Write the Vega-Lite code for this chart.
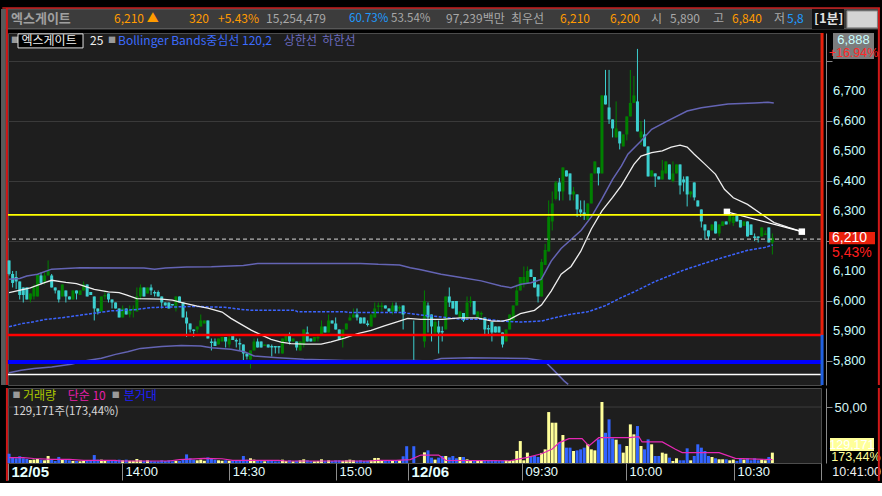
{
  "$schema": "https://vega.github.io/schema/vega-lite/v6.json",
  "background": "#000000",
  "padding": {"left": 0, "top": 6, "right": 0, "bottom": 0},
  "spacing": -2,
  "config": {
    "view": {"stroke": null},
    "scale": {"continuousPadding": 0},
    "text": {"font": "Noto Sans CJK KR", "fontSize": 12, "align": "left", "baseline": "middle"},
    "axis": {"labelFont": "Liberation Sans", "labelOverlap": false, "labelBound": false, "labelSeparation": 0}
  },
  "datasets": {
    "one": [{}],
    "yt": [{"t":5800},{"t":5900},{"t":6000},{"t":6100},{"t":6300},{"t":6400},{"t":6500},{"t":6600},{"t":6700}],
    "bars": [
      {"i":0,"o":6135,"h":6135,"l":6085,"c":6090,"v":8300},
      {"i":1,"o":6090,"h":6100,"l":6045,"c":6060,"v":4800},
      {"i":2,"o":6080,"h":6100,"l":6040,"c":6065,"v":4200},
      {"i":3,"o":6065,"h":6065,"l":6005,"c":6020,"v":6000},
      {"i":4,"o":6045,"h":6045,"l":5995,"c":6020,"v":4200},
      {"i":5,"o":6045,"h":6045,"l":6005,"c":6005,"v":3600},
      {"i":6,"o":6005,"h":6025,"l":5995,"c":6025,"v":2700},
      {"i":7,"o":6015,"h":6055,"l":6005,"c":6045,"v":3000},
      {"i":8,"o":6015,"h":6090,"l":6015,"c":6090,"v":3600},
      {"i":9,"o":6085,"h":6095,"l":6055,"c":6060,"v":3000},
      {"i":10,"o":6065,"h":6095,"l":6055,"c":6085,"v":2400},
      {"i":11,"o":6085,"h":6135,"l":6085,"c":6100,"v":6250},
      {"i":12,"o":6085,"h":6090,"l":6045,"c":6045,"v":3000},
      {"i":13,"o":6045,"h":6045,"l":6025,"c":6035,"v":1800},
      {"i":14,"o":6035,"h":6035,"l":5995,"c":6005,"v":5400},
      {"i":15,"o":6015,"h":6055,"l":6015,"c":6055,"v":3000},
      {"i":16,"o":6035,"h":6035,"l":5995,"c":6015,"v":3000},
      {"i":17,"o":6015,"h":6015,"l":6005,"c":6005,"v":2400},
      {"i":18,"o":6005,"h":6035,"l":6005,"c":6035,"v":1800},
      {"i":19,"o":6035,"h":6035,"l":6005,"c":6025,"v":1800},
      {"i":20,"o":6020,"h":6035,"l":6020,"c":6035,"v":1500},
      {"i":21,"o":6035,"h":6065,"l":6035,"c":6055,"v":1800},
      {"i":22,"o":6055,"h":6055,"l":6015,"c":6015,"v":2400},
      {"i":23,"o":6030,"h":6030,"l":6020,"c":6020,"v":1800},
      {"i":24,"o":6015,"h":6015,"l":5935,"c":5975,"v":7100},
      {"i":25,"o":5975,"h":5975,"l":5955,"c":5965,"v":3000},
      {"i":26,"o":5965,"h":6015,"l":5965,"c":6015,"v":3000},
      {"i":27,"o":6015,"h":6035,"l":6005,"c":6020,"v":2400},
      {"i":28,"o":6025,"h":6025,"l":5995,"c":6005,"v":2400},
      {"i":29,"o":6005,"h":6005,"l":5975,"c":5995,"v":2400},
      {"i":30,"o":5995,"h":5995,"l":5975,"c":5975,"v":2000},
      {"i":31,"o":5975,"h":5975,"l":5945,"c":5945,"v":3000},
      {"i":32,"o":5945,"h":5985,"l":5945,"c":5975,"v":2400},
      {"i":33,"o":5975,"h":5975,"l":5955,"c":5955,"v":3000},
      {"i":34,"o":5955,"h":5985,"l":5945,"c":5970,"v":2000},
      {"i":35,"o":5970,"h":5985,"l":5945,"c":5975,"v":2000},
      {"i":36,"o":5965,"h":6045,"l":5965,"c":6015,"v":3600},
      {"i":37,"o":6015,"h":6055,"l":6005,"c":6045,"v":2400},
      {"i":38,"o":6045,"h":6045,"l":6015,"c":6015,"v":2000},
      {"i":39,"o":6025,"h":6045,"l":6025,"c":6045,"v":2400},
      {"i":40,"o":6045,"h":6055,"l":6020,"c":6035,"v":1800},
      {"i":41,"o":6030,"h":6035,"l":6015,"c":6025,"v":1500},
      {"i":42,"o":6030,"h":6035,"l":6015,"c":6015,"v":1500},
      {"i":43,"o":6015,"h":6015,"l":5975,"c":5995,"v":2400},
      {"i":44,"o":5995,"h":5995,"l":5985,"c":5985,"v":1800},
      {"i":45,"o":5995,"h":5995,"l":5975,"c":5975,"v":2400},
      {"i":46,"o":5990,"h":5990,"l":5985,"c":5985,"v":1500},
      {"i":47,"o":5975,"h":6015,"l":5965,"c":6015,"v":2000},
      {"i":48,"o":6015,"h":6015,"l":5995,"c":5995,"v":1800},
      {"i":49,"o":5995,"h":5995,"l":5945,"c":5945,"v":3000},
      {"i":50,"o":5945,"h":5965,"l":5880,"c":5925,"v":7700},
      {"i":51,"o":5925,"h":5925,"l":5895,"c":5905,"v":4200},
      {"i":52,"o":5905,"h":5905,"l":5880,"c":5900,"v":3000},
      {"i":53,"o":5905,"h":5915,"l":5895,"c":5915,"v":2400},
      {"i":54,"o":5915,"h":5955,"l":5915,"c":5935,"v":3000},
      {"i":55,"o":5925,"h":5935,"l":5925,"c":5935,"v":2000},
      {"i":56,"o":5935,"h":5935,"l":5875,"c":5875,"v":5000},
      {"i":57,"o":5865,"h":5875,"l":5835,"c":5860,"v":4200},
      {"i":58,"o":5865,"h":5875,"l":5850,"c":5850,"v":3000},
      {"i":59,"o":5855,"h":5875,"l":5855,"c":5875,"v":2400},
      {"i":60,"o":5865,"h":5880,"l":5865,"c":5880,"v":2000},
      {"i":61,"o":5880,"h":5880,"l":5845,"c":5865,"v":2400},
      {"i":62,"o":5855,"h":5890,"l":5845,"c":5875,"v":2000},
      {"i":63,"o":5885,"h":5885,"l":5870,"c":5870,"v":2400},
      {"i":64,"o":5870,"h":5875,"l":5845,"c":5865,"v":1800},
      {"i":65,"o":5860,"h":5875,"l":5835,"c":5855,"v":2000},
      {"i":66,"o":5855,"h":5855,"l":5795,"c":5825,"v":6250},
      {"i":67,"o":5825,"h":5825,"l":5805,"c":5815,"v":3000},
      {"i":68,"o":5805,"h":5835,"l":5775,"c":5835,"v":4200},
      {"i":69,"o":5835,"h":5875,"l":5835,"c":5865,"v":3000},
      {"i":70,"o":5865,"h":5875,"l":5845,"c":5845,"v":2400},
      {"i":71,"o":5865,"h":5865,"l":5845,"c":5845,"v":2000},
      {"i":72,"o":5850,"h":5855,"l":5850,"c":5855,"v":1500},
      {"i":73,"o":5855,"h":5855,"l":5845,"c":5845,"v":2000},
      {"i":74,"o":5850,"h":5855,"l":5815,"c":5845,"v":1800},
      {"i":75,"o":5850,"h":5850,"l":5825,"c":5845,"v":1500},
      {"i":76,"o":5850,"h":5850,"l":5825,"c":5845,"v":1500},
      {"i":77,"o":5825,"h":5875,"l":5825,"c":5875,"v":3000},
      {"i":78,"o":5865,"h":5885,"l":5865,"c":5885,"v":1800},
      {"i":79,"o":5885,"h":5895,"l":5855,"c":5865,"v":2400},
      {"i":80,"o":5865,"h":5875,"l":5865,"c":5875,"v":1500},
      {"i":81,"o":5865,"h":5865,"l":5835,"c":5845,"v":2000},
      {"i":82,"o":5835,"h":5865,"l":5835,"c":5865,"v":2400},
      {"i":83,"o":5855,"h":5905,"l":5845,"c":5905,"v":3300},
      {"i":84,"o":5895,"h":5915,"l":5865,"c":5865,"v":2400},
      {"i":85,"o":5875,"h":5875,"l":5865,"c":5865,"v":1800},
      {"i":86,"o":5865,"h":5880,"l":5865,"c":5880,"v":1500},
      {"i":87,"o":5875,"h":5890,"l":5865,"c":5880,"v":1800},
      {"i":88,"o":5885,"h":5935,"l":5885,"c":5915,"v":3300},
      {"i":89,"o":5915,"h":5915,"l":5895,"c":5895,"v":2000},
      {"i":90,"o":5895,"h":5955,"l":5895,"c":5935,"v":2400},
      {"i":91,"o":5935,"h":5935,"l":5925,"c":5925,"v":1800},
      {"i":92,"o":5925,"h":5945,"l":5905,"c":5905,"v":2400},
      {"i":93,"o":5905,"h":5905,"l":5870,"c":5870,"v":2400},
      {"i":94,"o":5875,"h":5905,"l":5845,"c":5905,"v":2000},
      {"i":95,"o":5905,"h":5925,"l":5905,"c":5925,"v":2400},
      {"i":96,"o":5935,"h":5955,"l":5935,"c":5945,"v":3000},
      {"i":97,"o":5945,"h":5975,"l":5945,"c":5955,"v":2400},
      {"i":98,"o":5955,"h":5975,"l":5935,"c":5945,"v":2000},
      {"i":99,"o":5945,"h":5945,"l":5925,"c":5925,"v":2400},
      {"i":100,"o":5945,"h":5945,"l":5925,"c":5925,"v":1800},
      {"i":101,"o":5925,"h":5935,"l":5915,"c":5920,"v":2000},
      {"i":102,"o":5915,"h":5955,"l":5915,"c":5955,"v":2400},
      {"i":103,"o":5945,"h":5995,"l":5945,"c":5975,"v":4500},
      {"i":104,"o":5980,"h":5995,"l":5965,"c":5985,"v":4500},
      {"i":105,"o":5980,"h":5995,"l":5965,"c":5985,"v":2000},
      {"i":106,"o":5985,"h":5985,"l":5975,"c":5975,"v":2400},
      {"i":107,"o":5975,"h":5975,"l":5965,"c":5965,"v":2000},
      {"i":108,"o":5965,"h":5995,"l":5955,"c":5985,"v":2400},
      {"i":109,"o":5985,"h":5995,"l":5965,"c":5965,"v":2000},
      {"i":110,"o":5975,"h":5985,"l":5965,"c":5980,"v":2400},
      {"i":111,"o":5985,"h":5985,"l":5905,"c":5955,"v":6000},
      {"i":112,"o":5890,"h":5890,"l":5885,"c":5885,"v":15000},
      {"i":114,"o":5890,"h":5935,"l":5795,"c":5885,"v":15000},
      {"i":117,"o":5865,"h":6035,"l":5845,"c":6000,"v":9500},
      {"i":118,"o":5985,"h":5995,"l":5895,"c":5945,"v":11300},
      {"i":119,"o":5955,"h":5955,"l":5865,"c":5915,"v":4800},
      {"i":120,"o":5895,"h":5940,"l":5885,"c":5930,"v":3000},
      {"i":121,"o":5915,"h":5935,"l":5825,"c":5895,"v":4800},
      {"i":122,"o":5900,"h":5915,"l":5865,"c":5895,"v":6250},
      {"i":123,"o":5905,"h":6015,"l":5905,"c":6015,"v":6250},
      {"i":124,"o":6015,"h":6045,"l":5980,"c":5995,"v":5000},
      {"i":125,"o":6000,"h":6000,"l":5975,"c":5975,"v":6250},
      {"i":126,"o":6000,"h":6000,"l":5955,"c":5955,"v":4200},
      {"i":127,"o":5945,"h":5965,"l":5945,"c":5965,"v":5360},
      {"i":128,"o":5960,"h":5960,"l":5930,"c":5935,"v":5360},
      {"i":129,"o":5945,"h":6015,"l":5945,"c":5995,"v":3270},
      {"i":130,"o":5995,"h":6015,"l":5980,"c":6000,"v":2380},
      {"i":131,"o":6000,"h":6000,"l":5955,"c":5955,"v":1800},
      {"i":132,"o":5945,"h":5965,"l":5945,"c":5965,"v":1800},
      {"i":133,"o":5955,"h":5965,"l":5940,"c":5960,"v":2700},
      {"i":134,"o":5945,"h":5945,"l":5885,"c":5905,"v":2380},
      {"i":135,"o":5910,"h":5920,"l":5885,"c":5905,"v":2380},
      {"i":136,"o":5930,"h":5930,"l":5865,"c":5895,"v":2380},
      {"i":137,"o":5915,"h":5915,"l":5895,"c":5895,"v":2380},
      {"i":138,"o":5915,"h":5915,"l":5895,"c":5895,"v":1800},
      {"i":139,"o":5895,"h":5895,"l":5845,"c":5855,"v":1800},
      {"i":140,"o":5865,"h":5905,"l":5865,"c":5905,"v":2380},
      {"i":141,"o":5905,"h":5955,"l":5905,"c":5955,"v":1800},
      {"i":142,"o":5935,"h":5985,"l":5935,"c":5985,"v":2380},
      {"i":143,"o":5985,"h":6055,"l":5985,"c":6035,"v":10700},
      {"i":144,"o":6035,"h":6080,"l":6035,"c":6080,"v":19600},
      {"i":145,"o":6060,"h":6115,"l":6045,"c":6080,"v":2400},
      {"i":146,"o":6060,"h":6115,"l":6060,"c":6100,"v":9250},
      {"i":147,"o":6105,"h":6105,"l":6080,"c":6080,"v":6250},
      {"i":148,"o":6080,"h":6080,"l":6045,"c":6045,"v":6250},
      {"i":149,"o":6055,"h":6055,"l":5995,"c":6015,"v":5360},
      {"i":150,"o":6015,"h":6140,"l":6015,"c":6130,"v":9000},
      {"i":151,"o":6120,"h":6190,"l":6120,"c":6170,"v":12200},
      {"i":152,"o":6165,"h":6335,"l":6165,"c":6280,"v":45500},
      {"i":153,"o":6265,"h":6365,"l":6235,"c":6325,"v":36000},
      {"i":154,"o":6340,"h":6400,"l":6335,"c":6395,"v":36000},
      {"i":155,"o":6395,"h":6410,"l":6335,"c":6365,"v":18200},
      {"i":156,"o":6365,"h":6445,"l":6335,"c":6445,"v":25000},
      {"i":157,"o":6435,"h":6435,"l":6415,"c":6415,"v":13700},
      {"i":158,"o":6425,"h":6425,"l":6335,"c":6355,"v":13700},
      {"i":159,"o":6355,"h":6380,"l":6335,"c":6365,"v":10700},
      {"i":160,"o":6355,"h":6355,"l":6280,"c":6305,"v":11300},
      {"i":161,"o":6305,"h":6335,"l":6280,"c":6295,"v":12200},
      {"i":162,"o":6295,"h":6335,"l":6270,"c":6285,"v":13700},
      {"i":163,"o":6270,"h":6325,"l":6270,"c":6325,"v":16700},
      {"i":164,"o":6325,"h":6425,"l":6325,"c":6425,"v":12200},
      {"i":165,"o":6425,"h":6465,"l":6425,"c":6465,"v":11300},
      {"i":166,"o":6445,"h":6445,"l":6385,"c":6425,"v":21100},
      {"i":167,"o":6425,"h":6685,"l":6425,"c":6685,"v":54500},
      {"i":168,"o":6685,"h":6770,"l":6655,"c":6655,"v":27000},
      {"i":169,"o":6645,"h":6770,"l":6590,"c":6605,"v":39000},
      {"i":170,"o":6605,"h":6605,"l":6545,"c":6575,"v":22000},
      {"i":171,"o":6545,"h":6665,"l":6545,"c":6575,"v":20800},
      {"i":172,"o":6565,"h":6565,"l":6505,"c":6525,"v":16700},
      {"i":173,"o":6515,"h":6555,"l":6515,"c":6555,"v":9250},
      {"i":174,"o":6555,"h":6615,"l":6535,"c":6615,"v":15200},
      {"i":175,"o":6615,"h":6770,"l":6615,"c":6660,"v":34500},
      {"i":176,"o":6660,"h":6750,"l":6660,"c":6685,"v":25600},
      {"i":177,"o":6665,"h":6840,"l":6565,"c":6565,"v":33000},
      {"i":178,"o":6545,"h":6600,"l":6520,"c":6565,"v":15200},
      {"i":179,"o":6555,"h":6605,"l":6515,"c":6515,"v":12200},
      {"i":180,"o":6515,"h":6515,"l":6415,"c":6415,"v":21100},
      {"i":181,"o":6415,"h":6435,"l":6415,"c":6435,"v":16700},
      {"i":182,"o":6425,"h":6425,"l":6380,"c":6415,"v":6250},
      {"i":183,"o":6415,"h":6415,"l":6405,"c":6405,"v":6250},
      {"i":184,"o":6405,"h":6470,"l":6405,"c":6435,"v":9250},
      {"i":185,"o":6425,"h":6465,"l":6425,"c":6465,"v":8300},
      {"i":186,"o":6455,"h":6455,"l":6405,"c":6405,"v":4800},
      {"i":187,"o":6400,"h":6465,"l":6395,"c":6425,"v":1800},
      {"i":188,"o":6425,"h":6455,"l":6425,"c":6455,"v":4200},
      {"i":189,"o":6455,"h":6455,"l":6355,"c":6385,"v":2400},
      {"i":190,"o":6405,"h":6415,"l":6365,"c":6395,"v":2400},
      {"i":191,"o":6415,"h":6415,"l":6315,"c":6355,"v":13100},
      {"i":192,"o":6355,"h":6365,"l":6345,"c":6365,"v":2400},
      {"i":193,"o":6395,"h":6395,"l":6335,"c":6345,"v":6250},
      {"i":194,"o":6335,"h":6335,"l":6315,"c":6315,"v":16700},
      {"i":195,"o":6305,"h":6305,"l":6245,"c":6265,"v":13700},
      {"i":196,"o":6255,"h":6255,"l":6205,"c":6235,"v":10700},
      {"i":197,"o":6235,"h":6235,"l":6205,"c":6215,"v":6250},
      {"i":198,"o":6235,"h":6255,"l":6235,"c":6255,"v":5360},
      {"i":199,"o":6265,"h":6265,"l":6225,"c":6225,"v":4200},
      {"i":200,"o":6225,"h":6255,"l":6215,"c":6255,"v":3300},
      {"i":201,"o":6250,"h":6265,"l":6250,"c":6265,"v":3300},
      {"i":202,"o":6265,"h":6265,"l":6255,"c":6255,"v":3300},
      {"i":203,"o":6265,"h":6290,"l":6255,"c":6285,"v":2400},
      {"i":204,"o":6260,"h":6290,"l":6250,"c":6280,"v":3000},
      {"i":205,"o":6285,"h":6285,"l":6265,"c":6265,"v":1800},
      {"i":206,"o":6270,"h":6270,"l":6245,"c":6245,"v":4200},
      {"i":207,"o":6250,"h":6265,"l":6250,"c":6265,"v":3000},
      {"i":208,"o":6265,"h":6265,"l":6215,"c":6215,"v":4200},
      {"i":209,"o":6255,"h":6255,"l":6220,"c":6220,"v":2400},
      {"i":210,"o":6215,"h":6225,"l":6200,"c":6210,"v":4200},
      {"i":211,"o":6215,"h":6215,"l":6195,"c":6210,"v":2400},
      {"i":212,"o":6215,"h":6245,"l":6215,"c":6245,"v":3000},
      {"i":213,"o":6220,"h":6235,"l":6220,"c":6225,"v":2400},
      {"i":214,"o":6245,"h":6245,"l":6195,"c":6195,"v":5360},
      {"i":215,"o":6195,"h":6225,"l":6155,"c":6210,"v":9250}
    ],
    "lines": [
      {"s":"ma","i":0,"p":6028},{"s":"ma","i":6,"p":6044},{"s":"ma","i":10,"p":6061},{"s":"ma","i":12,"p":6069},
      {"s":"ma","i":16,"p":6062},{"s":"ma","i":19,"p":6058},{"s":"ma","i":24,"p":6039},{"s":"ma","i":28,"p":6030},
      {"s":"ma","i":31,"p":6028},{"s":"ma","i":33,"p":6020},{"s":"ma","i":36,"p":6008},{"s":"ma","i":43,"p":6006},
      {"s":"ma","i":46,"p":6003},{"s":"ma","i":49,"p":5994},{"s":"ma","i":53,"p":5983},{"s":"ma","i":56,"p":5976},
      {"s":"ma","i":60,"p":5963},{"s":"ma","i":62.5,"p":5942},{"s":"ma","i":65.4,"p":5922},{"s":"ma","i":68.2,"p":5903},
      {"s":"ma","i":71,"p":5887},{"s":"ma","i":73.8,"p":5872},{"s":"ma","i":76.6,"p":5863},{"s":"ma","i":79.4,"p":5858},
      {"s":"ma","i":83.2,"p":5856},{"s":"ma","i":87.9,"p":5856},{"s":"ma","i":90.7,"p":5864},{"s":"ma","i":94.5,"p":5876},
      {"s":"ma","i":98.2,"p":5891},{"s":"ma","i":102,"p":5902},{"s":"ma","i":105.7,"p":5917},{"s":"ma","i":109.5,"p":5931},
      {"s":"ma","i":112.3,"p":5942},{"s":"ma","i":116,"p":5939},{"s":"ma","i":122,"p":5939},{"s":"ma","i":127,"p":5944},
      {"s":"ma","i":132,"p":5944},{"s":"ma","i":136,"p":5933},{"s":"ma","i":139,"p":5933},{"s":"ma","i":141,"p":5939},
      {"s":"ma","i":144,"p":5958},{"s":"ma","i":148,"p":5969},{"s":"ma","i":150,"p":5987},{"s":"ma","i":152.7,"p":6033},
      {"s":"ma","i":155.5,"p":6089},{"s":"ma","i":158.3,"p":6115},{"s":"ma","i":161,"p":6165},{"s":"ma","i":164,"p":6240},
      {"s":"ma","i":167,"p":6300},{"s":"ma","i":170,"p":6345},{"s":"ma","i":172.5,"p":6385},{"s":"ma","i":176,"p":6455},
      {"s":"ma","i":178,"p":6483},{"s":"ma","i":181,"p":6494},{"s":"ma","i":184,"p":6500},{"s":"ma","i":186.5,"p":6513},
      {"s":"ma","i":189,"p":6519},{"s":"ma","i":191,"p":6513},{"s":"ma","i":193,"p":6489},{"s":"ma","i":196,"p":6456},
      {"s":"ma","i":199,"p":6422},{"s":"ma","i":201.5,"p":6372},{"s":"ma","i":204,"p":6344},{"s":"ma","i":208,"p":6322},
      {"s":"ma","i":212,"p":6289},{"s":"ma","i":215.5,"p":6261},{"s":"ma","i":219.5,"p":6245},{"s":"ma","i":223.3,"p":6231},
      {"s":"up","i":0,"p":6072},{"s":"up","i":3,"p":6075},{"s":"up","i":5,"p":6083},{"s":"up","i":8,"p":6089},
      {"s":"up","i":12,"p":6106},{"s":"up","i":20,"p":6111},{"s":"up","i":38,"p":6110},{"s":"up","i":41,"p":6106},
      {"s":"up","i":44,"p":6110},{"s":"up","i":50,"p":6113},{"s":"up","i":57,"p":6114},{"s":"up","i":66,"p":6118},
      {"s":"up","i":70,"p":6125},{"s":"up","i":99,"p":6125},{"s":"up","i":104,"p":6122},{"s":"up","i":110,"p":6120},
      {"s":"up","i":113,"p":6111},{"s":"up","i":116,"p":6104},{"s":"up","i":121.7,"p":6089},{"s":"up","i":127.3,"p":6078},
      {"s":"up","i":133,"p":6067},{"s":"up","i":138.6,"p":6050},{"s":"up","i":141.4,"p":6044},{"s":"up","i":144.2,"p":6056},
      {"s":"up","i":147,"p":6061},{"s":"up","i":149.9,"p":6072},{"s":"up","i":152.7,"p":6133},{"s":"up","i":155.5,"p":6175},
      {"s":"up","i":158.3,"p":6205},{"s":"up","i":161.1,"p":6235},{"s":"up","i":164,"p":6280},{"s":"up","i":167,"p":6340},
      {"s":"up","i":170,"p":6405},{"s":"up","i":172.5,"p":6450},{"s":"up","i":174.3,"p":6489},{"s":"up","i":178,"p":6533},
      {"s":"up","i":181,"p":6572},{"s":"up","i":185.5,"p":6600},{"s":"up","i":191,"p":6633},{"s":"up","i":195,"p":6644},
      {"s":"up","i":202.5,"p":6656},{"s":"up","i":210,"p":6660},{"s":"up","i":213.8,"p":6662},{"s":"up","i":215.4,"p":6660},
      {"s":"lo","i":0,"p":5761},{"s":"lo","i":3.4,"p":5769},{"s":"lo","i":7,"p":5775},{"s":"lo","i":12,"p":5780},
      {"s":"lo","i":17.5,"p":5789},{"s":"lo","i":22,"p":5802},{"s":"lo","i":26,"p":5809},{"s":"lo","i":30,"p":5822},
      {"s":"lo","i":33.4,"p":5831},{"s":"lo","i":37,"p":5842},{"s":"lo","i":43,"p":5848},{"s":"lo","i":48.5,"p":5852},
      {"s":"lo","i":54,"p":5850},{"s":"lo","i":57,"p":5844},{"s":"lo","i":59.7,"p":5842},{"s":"lo","i":62.5,"p":5839},
      {"s":"lo","i":66.3,"p":5831},{"s":"lo","i":69,"p":5817},{"s":"lo","i":75.7,"p":5811},{"s":"lo","i":83,"p":5806},
      {"s":"lo","i":94.5,"p":5802},{"s":"lo","i":114,"p":5802},{"s":"lo","i":119,"p":5800},{"s":"lo","i":121.7,"p":5808},
      {"s":"lo","i":130,"p":5811},{"s":"lo","i":146,"p":5808},{"s":"lo","i":150.8,"p":5800},{"s":"lo","i":153.6,"p":5767},
      {"s":"lo","i":156.4,"p":5733},{"s":"lo","i":157.5,"p":5722},
      {"s":"mid","i":0,"p":5914},{"s":"mid","i":3.4,"p":5924},{"s":"mid","i":7,"p":5931},{"s":"mid","i":10,"p":5938},
      {"s":"mid","i":14.7,"p":5944},{"s":"mid","i":20.3,"p":5953},{"s":"mid","i":25,"p":5961},{"s":"mid","i":28.7,"p":5967},
      {"s":"mid","i":35.3,"p":5971},{"s":"mid","i":40,"p":5978},{"s":"mid","i":46.6,"p":5980},{"s":"mid","i":52.2,"p":5982},
      {"s":"mid","i":57,"p":5980},{"s":"mid","i":60.7,"p":5979},{"s":"mid","i":65.4,"p":5972},{"s":"mid","i":68.2,"p":5969},
      {"s":"mid","i":80.4,"p":5969},{"s":"mid","i":81.3,"p":5964},{"s":"mid","i":94.5,"p":5964},{"s":"mid","i":95.4,"p":5962},
      {"s":"mid","i":111.4,"p":5962},{"s":"mid","i":112.3,"p":5959},{"s":"mid","i":117,"p":5952},{"s":"mid","i":121.7,"p":5947},
      {"s":"mid","i":127.3,"p":5939},{"s":"mid","i":134.8,"p":5939},{"s":"mid","i":138.6,"p":5933},{"s":"mid","i":144.2,"p":5930},
      {"s":"mid","i":149.9,"p":5933},{"s":"mid","i":153.6,"p":5944},{"s":"mid","i":158.3,"p":5956},{"s":"mid","i":163,"p":5964},
      {"s":"mid","i":167.7,"p":5983},{"s":"mid","i":172.4,"p":6011},{"s":"mid","i":176,"p":6030},{"s":"mid","i":182,"p":6065},
      {"s":"mid","i":189.8,"p":6102},{"s":"mid","i":197.8,"p":6133},{"s":"mid","i":202.5,"p":6150},{"s":"mid","i":208.1,"p":6169},
      {"s":"mid","i":212.8,"p":6178},{"s":"mid","i":215.1,"p":6187},
      {"s":"trend","i":202.2,"p":6297},{"s":"trend","i":223.3,"p":6231},
      {"s":"vma","i":0,"p":4800},{"s":"vma","i":4,"p":4800},{"s":"vma","i":7,"p":4000},{"s":"vma","i":12,"p":3200},
      {"s":"vma","i":17,"p":3200},{"s":"vma","i":21,"p":2400},{"s":"vma","i":30,"p":2400},{"s":"vma","i":31,"p":1800},
      {"s":"vma","i":45,"p":1800},{"s":"vma","i":48,"p":3000},{"s":"vma","i":55,"p":4200},{"s":"vma","i":60,"p":3800},
      {"s":"vma","i":63,"p":2400},{"s":"vma","i":76,"p":2400},{"s":"vma","i":78,"p":1800},{"s":"vma","i":101,"p":1800},
      {"s":"vma","i":104,"p":2400},{"s":"vma","i":109,"p":2400},{"s":"vma","i":113,"p":3000},{"s":"vma","i":116,"p":7100},
      {"s":"vma","i":121,"p":7100},{"s":"vma","i":123,"p":2400},{"s":"vma","i":141,"p":2000},{"s":"vma","i":143,"p":3200},
      {"s":"vma","i":146,"p":5000},{"s":"vma","i":150,"p":8300},{"s":"vma","i":153,"p":12500},{"s":"vma","i":155,"p":18200},
      {"s":"vma","i":157.7,"p":21700},{"s":"vma","i":161.4,"p":21700},{"s":"vma","i":163.3,"p":15200},{"s":"vma","i":166.1,"p":22600},
      {"s":"vma","i":174.6,"p":22600},{"s":"vma","i":177.4,"p":23500},{"s":"vma","i":178.3,"p":18800},{"s":"vma","i":184,"p":18800},
      {"s":"vma","i":187.7,"p":12200},{"s":"vma","i":189.6,"p":9250},{"s":"vma","i":200,"p":9250},{"s":"vma","i":204.6,"p":4200},
      {"s":"vma","i":215,"p":3000}
    ]
  },
  "vconcat": [
    {
      "width": 813,
      "height": 352,
      "view": {"fill": "#1e1e1e", "stroke": "#4c4c4c"},
      "layer": [
        {"data": {"name": "one"}, "mark": {"type": "rect", "fill": "#3c3c3c", "stroke": "#6a6a6a"},
         "encoding": {"x": {"datum": -0.9, "scale": {"domain": [-0.3, 228.7], "nice": false, "zero": false, "padding": 0}, "axis": null}, "x2": {"datum": 245.0},
                      "y": {"datum": 6906.7, "scale": {"domain": [5720, 6893], "nice": false, "zero": false}}, "y2": {"datum": 6973.3}}},
        {"data": {"name": "one"}, "mark": {"type": "rule", "color": "#c81e1e", "strokeWidth": 1.5},
         "encoding": {"x": {"datum": -1.9, "scale": {"domain": [-0.3, 228.7], "nice": false, "zero": false, "padding": 0}, "axis": null}, "x2": {"datum": 245.3},
                      "y": {"datum": 6976.7, "scale": {"domain": [5720, 6893], "nice": false, "zero": false}}}},
        {"data": {"name": "one"}, "mark": {"type": "rect", "fill": "#5a5a5a"},
         "encoding": {"x": {"datum": -2.27, "scale": {"domain": [-0.3, 228.7], "nice": false, "zero": false, "padding": 0}, "axis": null}, "x2": {"datum": -0.89},
                      "y": {"datum": 5720, "scale": {"domain": [5720, 6893], "nice": false, "zero": false}}, "y2": {"datum": 6973.3}}},
        {"data": {"name": "one"}, "mark": {"type": "rule", "color": "#d01818", "strokeWidth": 2},
         "encoding": {"x": {"datum": -0.6, "scale": {"domain": [-0.3, 228.7], "nice": false, "zero": false, "padding": 0}, "axis": null},
                      "y": {"datum": 5720, "scale": {"domain": [5720, 6893], "nice": false, "zero": false}}, "y2": {"datum": 6976.7}}},
        {"data": {"name": "bars"}, "mark": {"type": "rule", "strokeWidth": 1},
         "encoding": {
           "x": {"field": "i", "type": "quantitative", "scale": {"domain": [-0.3, 228.7], "nice": false, "zero": false, "padding": 0}, "axis": null},
           "y": {"field": "l", "type": "quantitative", "scale": {"domain": [5720, 6893], "nice": false, "zero": false},
                 "axis": {"orient": "right", "offset": 5, "title": null, "labels": false,
                          "values": [5800, 5900, 6000, 6100, 6200, 6300, 6400, 6500, 6600, 6700, 6800],
                          "tickSize": 6,
                          "grid": true, "gridColor": "#3a3a3a",
                          "domainColor": "#8a8a8a", "tickColor": "#8a8a8a"}},
           "y2": {"field": "h"},
           "color": {"condition": {"test": "datum.c >= datum.o", "value": "#008000"}, "value": "#3ccfcf"}}},
        {"data": {"name": "bars"}, "mark": {"type": "bar", "size": 3},
         "encoding": {
           "x": {"field": "i", "type": "quantitative", "scale": {"domain": [-0.3, 228.7], "nice": false, "zero": false, "padding": 0}, "axis": null},
           "y": {"field": "o", "type": "quantitative", "scale": {"domain": [5720, 6893], "nice": false, "zero": false}},
           "y2": {"field": "c"},
           "color": {"condition": {"test": "datum.c >= datum.o", "value": "#008000"}, "value": "#3ccfcf"}}},
        {"data": {"name": "lines"}, "transform": [{"filter": "datum.s == 'up'"}],
         "mark": {"type": "line", "color": "#6464b4", "strokeWidth": 1.5},
         "encoding": {"x": {"field": "i", "type": "quantitative", "scale": {"domain": [-0.3, 228.7], "nice": false, "zero": false, "padding": 0}, "axis": null},
                      "y": {"field": "p", "type": "quantitative", "scale": {"domain": [5720, 6893], "nice": false, "zero": false}}}},
        {"data": {"name": "lines"}, "transform": [{"filter": "datum.s == 'lo'"}],
         "mark": {"type": "line", "color": "#6464b4", "strokeWidth": 1.5},
         "encoding": {"x": {"field": "i", "type": "quantitative", "scale": {"domain": [-0.3, 228.7], "nice": false, "zero": false, "padding": 0}, "axis": null},
                      "y": {"field": "p", "type": "quantitative", "scale": {"domain": [5720, 6893], "nice": false, "zero": false}}}},
        {"data": {"name": "lines"}, "transform": [{"filter": "datum.s == 'mid'"}],
         "mark": {"type": "line", "color": "#3c64ff", "strokeWidth": 1.5, "strokeDash": [3, 1.5]},
         "encoding": {"x": {"field": "i", "type": "quantitative", "scale": {"domain": [-0.3, 228.7], "nice": false, "zero": false, "padding": 0}, "axis": null},
                      "y": {"field": "p", "type": "quantitative", "scale": {"domain": [5720, 6893], "nice": false, "zero": false}}}},
        {"data": {"name": "lines"}, "transform": [{"filter": "datum.s == 'ma'"}],
         "mark": {"type": "line", "color": "#eeeeee", "strokeWidth": 1.3},
         "encoding": {"x": {"field": "i", "type": "quantitative", "scale": {"domain": [-0.3, 228.7], "nice": false, "zero": false, "padding": 0}, "axis": null},
                      "y": {"field": "p", "type": "quantitative", "scale": {"domain": [5720, 6893], "nice": false, "zero": false}}}},
        {"data": {"name": "lines"}, "transform": [{"filter": "datum.s == 'trend'"}],
         "mark": {"type": "line", "color": "#ffffff", "strokeWidth": 1.3, "point": {"shape": "square", "size": 42, "filled": true, "color": "#ffffff"}},
         "encoding": {"x": {"field": "i", "type": "quantitative", "scale": {"domain": [-0.3, 228.7], "nice": false, "zero": false, "padding": 0}, "axis": null},
                      "y": {"field": "p", "type": "quantitative", "scale": {"domain": [5720, 6893], "nice": false, "zero": false}}}},
        {"data": {"name": "one"}, "mark": {"type": "rule", "color": "#ffff00", "strokeWidth": 1.8},
         "encoding": {"y": {"datum": 6287, "scale": {"domain": [5720, 6893], "nice": false, "zero": false}}}},
        {"data": {"name": "one"}, "mark": {"type": "rule", "color": "#ff0000", "strokeWidth": 2.5},
         "encoding": {"y": {"datum": 5887, "scale": {"domain": [5720, 6893], "nice": false, "zero": false}}}},
        {"data": {"name": "one"}, "mark": {"type": "rule", "color": "#0000ff", "strokeWidth": 4},
         "encoding": {"y": {"datum": 5797, "scale": {"domain": [5720, 6893], "nice": false, "zero": false}}}},
        {"data": {"name": "one"}, "mark": {"type": "rule", "color": "#ffffff", "strokeWidth": 1.5},
         "encoding": {"y": {"datum": 5755, "scale": {"domain": [5720, 6893], "nice": false, "zero": false}}}},
        {"data": {"name": "one"}, "mark": {"type": "rule", "color": "#b4b4b4", "strokeWidth": 1.2, "strokeDash": [4, 3]},
         "encoding": {"y": {"datum": 6206, "scale": {"domain": [5720, 6893], "nice": false, "zero": false}}}},
        {"data": {"name": "one"}, "mark": {"type": "rule", "color": "#e8200c", "strokeWidth": 3},
         "encoding": {"x": {"datum": 229.0, "scale": {"domain": [-0.3, 228.7], "nice": false, "zero": false, "padding": 0}, "axis": null},
                      "y": {"datum": 5887, "scale": {"domain": [5720, 6893], "nice": false, "zero": false}}, "y2": {"datum": 6893}}},
        {"data": {"name": "one"}, "mark": {"type": "rule", "color": "#2060e0", "strokeWidth": 3},
         "encoding": {"x": {"datum": 229.0, "scale": {"domain": [-0.3, 228.7], "nice": false, "zero": false, "padding": 0}, "axis": null},
                      "y": {"datum": 5720, "scale": {"domain": [5720, 6893], "nice": false, "zero": false}}, "y2": {"datum": 5887}}},
        {"data": {"name": "one"}, "mark": {"type": "rule", "color": "#d01818", "strokeWidth": 2},
         "encoding": {"x": {"datum": 245.0, "scale": {"domain": [-0.3, 228.7], "nice": false, "zero": false, "padding": 0}, "axis": null},
                      "y": {"datum": 5720, "scale": {"domain": [5720, 6893], "nice": false, "zero": false}}, "y2": {"datum": 6976.7}}},
        {"data": {"name": "yt"}, "mark": {"type": "text", "color": "#c8ffff", "font": "Liberation Sans", "fontSize": 13},
         "encoding": {"x": {"datum": 232.1, "scale": {"domain": [-0.3, 228.7], "nice": false, "zero": false, "padding": 0}, "axis": null},
                      "y": {"field": "t", "type": "quantitative", "scale": {"domain": [5720, 6893], "nice": false, "zero": false}},
                      "text": {"field": "t", "type": "quantitative", "format": ",d"}}},
        {"data": {"name": "one"}, "mark": {"type": "rect", "fill": "#7c7c7c"},
         "encoding": {"x": {"datum": 232.08, "scale": {"domain": [-0.3, 228.7], "nice": false, "zero": false, "padding": 0}, "axis": null}, "x2": {"datum": 243.63},
                      "y": {"datum": 6806.7, "scale": {"domain": [5720, 6893], "nice": false, "zero": false}}, "y2": {"datum": 6893.3}}},
        {"data": {"name": "one"}, "mark": {"type": "text", "text": "6,888", "color": "#c8ffff", "font": "Liberation Sans", "fontSize": 13, "align": "center"},
         "encoding": {"x": {"datum": 237.85, "scale": {"domain": [-0.3, 228.7], "nice": false, "zero": false, "padding": 0}, "axis": null},
                      "y": {"datum": 6871, "scale": {"domain": [5720, 6893], "nice": false, "zero": false}}}},
        {"data": {"name": "one"}, "mark": {"type": "text", "text": "+16.94%", "color": "#ff2828", "font": "Liberation Sans", "fontSize": 12.5, "align": "center"},
         "encoding": {"x": {"datum": 237.85, "scale": {"domain": [-0.3, 228.7], "nice": false, "zero": false, "padding": 0}, "axis": null},
                      "y": {"datum": 6826, "scale": {"domain": [5720, 6893], "nice": false, "zero": false}}}},
        {"data": {"name": "one"}, "mark": {"type": "rect", "fill": "#e8200c"},
         "encoding": {"x": {"datum": 230.96, "scale": {"domain": [-0.3, 228.7], "nice": false, "zero": false, "padding": 0}, "axis": null}, "x2": {"datum": 243.91},
                      "y": {"datum": 6189, "scale": {"domain": [5720, 6893], "nice": false, "zero": false}}, "y2": {"datum": 6230}}},
        {"data": {"name": "one"}, "mark": {"type": "text", "text": "6,210", "color": "#ffffff", "font": "Liberation Sans", "fontSize": 14},
         "encoding": {"x": {"datum": 231.8, "scale": {"domain": [-0.3, 228.7], "nice": false, "zero": false, "padding": 0}, "axis": null},
                      "y": {"datum": 6210, "scale": {"domain": [5720, 6893], "nice": false, "zero": false}}}},
        {"data": {"name": "one"}, "mark": {"type": "text", "text": "5,43%", "color": "#ff1e1e", "font": "Liberation Sans", "fontSize": 14},
         "encoding": {"x": {"datum": 231.8, "scale": {"domain": [-0.3, 228.7], "nice": false, "zero": false, "padding": 0}, "axis": null},
                      "y": {"datum": 6159, "scale": {"domain": [5720, 6893], "nice": false, "zero": false}}}},
        {"data": {"name": "one"}, "mark": {"type": "text", "text": "■", "color": "#9a9a9a", "fontSize": 8},
         "encoding": {"x": {"datum": 0.55, "scale": {"domain": [-0.3, 228.7], "nice": false, "zero": false, "padding": 0}, "axis": null},
                      "y": {"datum": 6866.7, "scale": {"domain": [5720, 6893], "nice": false, "zero": false}}}},
        {"data": {"name": "one"}, "mark": {"type": "rect", "fill": "#000000", "stroke": "#e0e0e0", "strokeWidth": 1},
         "encoding": {"x": {"datum": 2.52, "scale": {"domain": [-0.3, 228.7], "nice": false, "zero": false, "padding": 0}, "axis": null}, "x2": {"datum": 20.83},
                      "y": {"datum": 6843.3, "scale": {"domain": [5720, 6893], "nice": false, "zero": false}}, "y2": {"datum": 6890}}},
        {"data": {"name": "one"}, "mark": {"type": "text", "text": "엑스게이트", "color": "#f0f0f0", "fontSize": 12},
         "encoding": {"x": {"datum": 3.5, "scale": {"domain": [-0.3, 228.7], "nice": false, "zero": false, "padding": 0}, "axis": null},
                      "y": {"datum": 6866.7, "scale": {"domain": [5720, 6893], "nice": false, "zero": false}}}},
        {"data": {"name": "one"}, "mark": {"type": "text", "text": "25", "color": "#f0f0f0", "fontSize": 12},
         "encoding": {"x": {"datum": 22.8, "scale": {"domain": [-0.3, 228.7], "nice": false, "zero": false, "padding": 0}, "axis": null},
                      "y": {"datum": 6866.7, "scale": {"domain": [5720, 6893], "nice": false, "zero": false}}}},
        {"data": {"name": "one"}, "mark": {"type": "text", "text": "■", "color": "#9a9a9a", "fontSize": 8},
         "encoding": {"x": {"datum": 27.9, "scale": {"domain": [-0.3, 228.7], "nice": false, "zero": false, "padding": 0}, "axis": null},
                      "y": {"datum": 6866.7, "scale": {"domain": [5720, 6893], "nice": false, "zero": false}}}},
        {"data": {"name": "one"}, "mark": {"type": "text", "text": "Bollinger Bands중심선 120,2", "color": "#3c6cff", "fontSize": 12},
         "encoding": {"x": {"datum": 30.7, "scale": {"domain": [-0.3, 228.7], "nice": false, "zero": false, "padding": 0}, "axis": null},
                      "y": {"datum": 6866.7, "scale": {"domain": [5720, 6893], "nice": false, "zero": false}}}},
        {"data": {"name": "one"}, "mark": {"type": "text", "text": "상한선\u00a0\u00a0하한선", "color": "#6c6cc0", "fontSize": 12},
         "encoding": {"x": {"datum": 77.4, "scale": {"domain": [-0.3, 228.7], "nice": false, "zero": false, "padding": 0}, "axis": null},
                      "y": {"datum": 6866.7, "scale": {"domain": [5720, 6893], "nice": false, "zero": false}}}},
        {"data": {"name": "one"}, "mark": {"type": "text", "text": "엑스게이트", "color": "#a0a0a0", "fontSize": 13, "fontWeight": "bold"},
         "encoding": {"x": {"datum": 0.55, "scale": {"domain": [-0.3, 228.7], "nice": false, "zero": false, "padding": 0}, "axis": null},
                      "y": {"datum": 6940, "scale": {"domain": [5720, 6893], "nice": false, "zero": false}}}},
        {"data": {"name": "one"}, "mark": {"type": "text", "text": "6,210 ▲", "color": "#ff9b00", "fontSize": 12},
         "encoding": {"x": {"datum": 29.56, "scale": {"domain": [-0.3, 228.7], "nice": false, "zero": false, "padding": 0}, "axis": null},
                      "y": {"datum": 6940, "scale": {"domain": [5720, 6893], "nice": false, "zero": false}}}},
        {"data": {"name": "one"}, "mark": {"type": "text", "text": "320", "color": "#ff9b00", "fontSize": 12},
         "encoding": {"x": {"datum": 50.68, "scale": {"domain": [-0.3, 228.7], "nice": false, "zero": false, "padding": 0}, "axis": null},
                      "y": {"datum": 6940, "scale": {"domain": [5720, 6893], "nice": false, "zero": false}}}},
        {"data": {"name": "one"}, "mark": {"type": "text", "text": "+5.43%", "color": "#ff9b00", "fontSize": 12},
         "encoding": {"x": {"datum": 58.85, "scale": {"domain": [-0.3, 228.7], "nice": false, "zero": false, "padding": 0}, "axis": null},
                      "y": {"datum": 6940, "scale": {"domain": [5720, 6893], "nice": false, "zero": false}}}},
        {"data": {"name": "one"}, "mark": {"type": "text", "text": "15,254,479", "color": "#a8a8a8", "fontSize": 12},
         "encoding": {"x": {"datum": 72.37, "scale": {"domain": [-0.3, 228.7], "nice": false, "zero": false, "padding": 0}, "axis": null},
                      "y": {"datum": 6940, "scale": {"domain": [5720, 6893], "nice": false, "zero": false}}}},
        {"data": {"name": "one"}, "mark": {"type": "text", "text": "60.73%", "color": "#1e9bff", "fontSize": 11.5},
         "encoding": {"x": {"datum": 95.75, "scale": {"domain": [-0.3, 228.7], "nice": false, "zero": false, "padding": 0}, "axis": null},
                      "y": {"datum": 6940, "scale": {"domain": [5720, 6893], "nice": false, "zero": false}}}},
        {"data": {"name": "one"}, "mark": {"type": "text", "text": "53.54%", "color": "#a8a8a8", "fontSize": 11.5},
         "encoding": {"x": {"datum": 107.6, "scale": {"domain": [-0.3, 228.7], "nice": false, "zero": false, "padding": 0}, "axis": null},
                      "y": {"datum": 6940, "scale": {"domain": [5720, 6893], "nice": false, "zero": false}}}},
        {"data": {"name": "one"}, "mark": {"type": "text", "text": "97,239백만", "color": "#a8a8a8", "fontSize": 12},
         "encoding": {"x": {"datum": 123.07, "scale": {"domain": [-0.3, 228.7], "nice": false, "zero": false, "padding": 0}, "axis": null},
                      "y": {"datum": 6940, "scale": {"domain": [5720, 6893], "nice": false, "zero": false}}}},
        {"data": {"name": "one"}, "mark": {"type": "text", "text": "최우선", "color": "#a8a8a8", "fontSize": 12},
         "encoding": {"x": {"datum": 141.38, "scale": {"domain": [-0.3, 228.7], "nice": false, "zero": false, "padding": 0}, "axis": null},
                      "y": {"datum": 6940, "scale": {"domain": [5720, 6893], "nice": false, "zero": false}}}},
        {"data": {"name": "one"}, "mark": {"type": "text", "text": "6,210", "color": "#ff9b00", "fontSize": 12},
         "encoding": {"x": {"datum": 155.18, "scale": {"domain": [-0.3, 228.7], "nice": false, "zero": false, "padding": 0}, "axis": null},
                      "y": {"datum": 6940, "scale": {"domain": [5720, 6893], "nice": false, "zero": false}}}},
        {"data": {"name": "one"}, "mark": {"type": "text", "text": "6,200", "color": "#ff9b00", "fontSize": 12},
         "encoding": {"x": {"datum": 169.27, "scale": {"domain": [-0.3, 228.7], "nice": false, "zero": false, "padding": 0}, "axis": null},
                      "y": {"datum": 6940, "scale": {"domain": [5720, 6893], "nice": false, "zero": false}}}},
        {"data": {"name": "one"}, "mark": {"type": "text", "text": "시", "color": "#a8a8a8", "fontSize": 12},
         "encoding": {"x": {"datum": 180.81, "scale": {"domain": [-0.3, 228.7], "nice": false, "zero": false, "padding": 0}, "axis": null},
                      "y": {"datum": 6940, "scale": {"domain": [5720, 6893], "nice": false, "zero": false}}}},
        {"data": {"name": "one"}, "mark": {"type": "text", "text": "5,890", "color": "#a8a8a8", "fontSize": 12},
         "encoding": {"x": {"datum": 186.17, "scale": {"domain": [-0.3, 228.7], "nice": false, "zero": false, "padding": 0}, "axis": null},
                      "y": {"datum": 6940, "scale": {"domain": [5720, 6893], "nice": false, "zero": false}}}},
        {"data": {"name": "one"}, "mark": {"type": "text", "text": "고", "color": "#a8a8a8", "fontSize": 12},
         "encoding": {"x": {"datum": 198.28, "scale": {"domain": [-0.3, 228.7], "nice": false, "zero": false, "padding": 0}, "axis": null},
                      "y": {"datum": 6940, "scale": {"domain": [5720, 6893], "nice": false, "zero": false}}}},
        {"data": {"name": "one"}, "mark": {"type": "text", "text": "6,840", "color": "#ff9b00", "fontSize": 12},
         "encoding": {"x": {"datum": 203.63, "scale": {"domain": [-0.3, 228.7], "nice": false, "zero": false, "padding": 0}, "axis": null},
                      "y": {"datum": 6940, "scale": {"domain": [5720, 6893], "nice": false, "zero": false}}}},
        {"data": {"name": "one"}, "mark": {"type": "text", "text": "저", "color": "#a8a8a8", "fontSize": 12},
         "encoding": {"x": {"datum": 215.46, "scale": {"domain": [-0.3, 228.7], "nice": false, "zero": false, "padding": 0}, "axis": null},
                      "y": {"datum": 6940, "scale": {"domain": [5720, 6893], "nice": false, "zero": false}}}},
        {"data": {"name": "one"}, "mark": {"type": "text", "text": "5,8", "color": "#1e9bff", "fontSize": 12},
         "encoding": {"x": {"datum": 219.12, "scale": {"domain": [-0.3, 228.7], "nice": false, "zero": false, "padding": 0}, "axis": null},
                      "y": {"datum": 6940, "scale": {"domain": [5720, 6893], "nice": false, "zero": false}}}},
        {"data": {"name": "one"}, "mark": {"type": "rect", "fill": "#101010"},
         "encoding": {"x": {"datum": 226.17, "scale": {"domain": [-0.3, 228.7], "nice": false, "zero": false, "padding": 0}, "axis": null}, "x2": {"datum": 235.18},
                      "y": {"datum": 6906.7, "scale": {"domain": [5720, 6893], "nice": false, "zero": false}}, "y2": {"datum": 6973.3}}},
        {"data": {"name": "one"}, "mark": {"type": "text", "text": "[1분]", "color": "#e0e0e0", "fontSize": 13, "fontWeight": "bold"},
         "encoding": {"x": {"datum": 226.73, "scale": {"domain": [-0.3, 228.7], "nice": false, "zero": false, "padding": 0}, "axis": null},
                      "y": {"datum": 6940, "scale": {"domain": [5720, 6893], "nice": false, "zero": false}}}},
        {"data": {"name": "one"}, "mark": {"type": "rect", "fill": "#d4d4d4", "stroke": "#808080"},
         "encoding": {"x": {"datum": 236.0, "scale": {"domain": [-0.3, 228.7], "nice": false, "zero": false, "padding": 0}, "axis": null}, "x2": {"datum": 244.6},
                      "y": {"datum": 6910, "scale": {"domain": [5720, 6893], "nice": false, "zero": false}}, "y2": {"datum": 6966.7}}}
      ]
    },
    {
      "width": 813,
      "height": 75,
      "view": {"fill": "#1e1e1e", "stroke": "#4c4c4c"},
      "layer": [
        {"data": {"name": "one"}, "mark": {"type": "rect", "fill": "#000000"},
         "encoding": {"x": {"datum": -2.27, "scale": {"domain": [-0.3, 228.7], "nice": false, "zero": false, "padding": 0}}, "x2": {"datum": -0.89},
                      "y": {"datum": 0, "scale": {"domain": [0, 67000], "nice": false, "zero": false, "padding": 0}}, "y2": {"datum": 67000}}},
        {"data": {"name": "one"}, "mark": {"type": "rule", "color": "#d01818", "strokeWidth": 2},
         "encoding": {"x": {"datum": -0.6, "scale": {"domain": [-0.3, 228.7], "nice": false, "zero": false, "padding": 0}},
                      "y": {"datum": -16000, "scale": {"domain": [0, 67000], "nice": false, "zero": false, "padding": 0}}, "y2": {"datum": 67000}}},
        {"data": {"name": "one"}, "mark": {"type": "rule", "color": "#3c3c3c", "strokeWidth": 1},
         "encoding": {"y": {"datum": 50000, "scale": {"domain": [0, 67000], "nice": false, "zero": false, "padding": 0}}}},
        {"data": {"name": "bars"}, "mark": {"type": "bar", "size": 3},
         "encoding": {
           "x": {"field": "i", "type": "quantitative", "scale": {"domain": [-0.3, 228.7], "nice": false, "zero": false, "padding": 0},
                 "axis": {"orient": "bottom", "title": null, "domain": false, "grid": false,
                          "values": [-0.3, 31.8, 62, 92.1, 112.4, 144.5, 173.8, 204.2, 228.7],
                          "labelExpr": "datum.value < 0 ? '12/05' : datum.value < 40 ? '14:00' : datum.value < 70 ? '14:30' : datum.value < 100 ? '15:00' : datum.value < 120 ? '12/06' : datum.value < 150 ? '09:30' : datum.value < 180 ? '10:00' : datum.value < 210 ? '10:30' : ''",
                          "tickSize": 17, "tickColor": "#8c8c8c", "tickWidth": 1,
                          "labelAlign": "left", "labelBaseline": "middle", "labelPadding": -9, "labelOffset": 3,
                          "labelColor": "#e6ffff",
                          "labelFontSize": {"condition": {"test": "datum.value < 0 || (datum.value > 100 && datum.value < 120)", "value": 15}, "value": 13},
                          "labelFontWeight": {"condition": {"test": "datum.value < 0 || (datum.value > 100 && datum.value < 120)", "value": "bold"}, "value": "normal"},
                          "labelOverlap": false, "labelBound": false, "labelFlush": false}},
           "y": {"field": "v", "type": "quantitative", "scale": {"domain": [0, 67000], "nice": false, "zero": false, "padding": 0},
                 "axis": {"orient": "right", "offset": 5, "title": null, "grid": false,
                          "values": [50000], "labelExpr": "'50,00'", "tickSize": 6,
                          "domainColor": "#8a8a8a", "tickColor": "#8a8a8a", "labelPadding": 2,
                          "labelColor": "#d8f4f4", "labelFontSize": 13, "labelAlign": "left", "labelBaseline": "middle",
                          "labelOverlap": false, "labelBound": false, "labelFlush": false}},
           "color": {"condition": {"test": "datum.c >= datum.o", "value": "#ffff99"}, "value": "#3264ff"}}},
        {"data": {"name": "lines"}, "transform": [{"filter": "datum.s == 'vma'"}],
         "mark": {"type": "line", "color": "#e628b4", "strokeWidth": 1.2},
         "encoding": {"x": {"field": "i", "type": "quantitative", "scale": {"domain": [-0.3, 228.7], "nice": false, "zero": false, "padding": 0}},
                      "y": {"field": "p", "type": "quantitative", "scale": {"domain": [0, 67000], "nice": false, "zero": false, "padding": 0}}}},
        {"data": {"name": "one"}, "mark": {"type": "text", "text": "■", "color": "#9a9a9a", "fontSize": 8},
         "encoding": {"x": {"datum": 1.0, "scale": {"domain": [-0.3, 228.7], "nice": false, "zero": false, "padding": 0}},
                      "y": {"datum": 59800, "scale": {"domain": [0, 67000], "nice": false, "zero": false, "padding": 0}}}},
        {"data": {"name": "one"}, "mark": {"type": "text", "text": "거래량", "color": "#aac800", "fontSize": 12},
         "encoding": {"x": {"datum": 3.9, "scale": {"domain": [-0.3, 228.7], "nice": false, "zero": false, "padding": 0}},
                      "y": {"datum": 59800, "scale": {"domain": [0, 67000], "nice": false, "zero": false, "padding": 0}}}},
        {"data": {"name": "one"}, "mark": {"type": "text", "text": "단순 10", "color": "#e61eaa", "fontSize": 12},
         "encoding": {"x": {"datum": 16.5, "scale": {"domain": [-0.3, 228.7], "nice": false, "zero": false, "padding": 0}},
                      "y": {"datum": 59800, "scale": {"domain": [0, 67000], "nice": false, "zero": false, "padding": 0}}}},
        {"data": {"name": "one"}, "mark": {"type": "text", "text": "■", "color": "#9a9a9a", "fontSize": 8},
         "encoding": {"x": {"datum": 28.9, "scale": {"domain": [-0.3, 228.7], "nice": false, "zero": false, "padding": 0}},
                      "y": {"datum": 59800, "scale": {"domain": [0, 67000], "nice": false, "zero": false, "padding": 0}}}},
        {"data": {"name": "one"}, "mark": {"type": "text", "text": "분거대", "color": "#1e1eff", "fontSize": 12},
         "encoding": {"x": {"datum": 32.3, "scale": {"domain": [-0.3, 228.7], "nice": false, "zero": false, "padding": 0}},
                      "y": {"datum": 59800, "scale": {"domain": [0, 67000], "nice": false, "zero": false, "padding": 0}}}},
        {"data": {"name": "one"}, "mark": {"type": "text", "text": "129,171주(173,44%)", "color": "#d8d8d8", "fontSize": 11.5},
         "encoding": {"x": {"datum": 1.11, "scale": {"domain": [-0.3, 228.7], "nice": false, "zero": false, "padding": 0}},
                      "y": {"datum": 45500, "scale": {"domain": [0, 67000], "nice": false, "zero": false, "padding": 0}}}},
        {"data": {"name": "one"}, "mark": {"type": "rect", "fill": "#ffff99"},
         "encoding": {"x": {"datum": 231.24, "scale": {"domain": [-0.3, 228.7], "nice": false, "zero": false, "padding": 0}}, "x2": {"datum": 243.63},
                      "y": {"datum": 10720, "scale": {"domain": [0, 67000], "nice": false, "zero": false, "padding": 0}}, "y2": {"datum": 22333}}},
        {"data": {"name": "one"}, "mark": {"type": "text", "text": "129,171", "color": "#ffffff", "font": "Liberation Sans", "fontSize": 12.5, "align": "center"},
         "encoding": {"x": {"datum": 237.4, "scale": {"domain": [-0.3, 228.7], "nice": false, "zero": false, "padding": 0}},
                      "y": {"datum": 16526, "scale": {"domain": [0, 67000], "nice": false, "zero": false, "padding": 0}}}},
        {"data": {"name": "one"}, "mark": {"type": "text", "text": "173,44%", "color": "#ffff99", "font": "Liberation Sans", "fontSize": 12.5},
         "encoding": {"x": {"datum": 231.6, "scale": {"domain": [-0.3, 228.7], "nice": false, "zero": false, "padding": 0}},
                      "y": {"datum": 5000, "scale": {"domain": [0, 67000], "nice": false, "zero": false, "padding": 0}}}},
        {"data": {"name": "one"}, "mark": {"type": "text", "text": "10:41:00", "color": "#f0f0f0", "font": "Liberation Sans", "fontSize": 12.5},
         "encoding": {"x": {"datum": 231.9, "scale": {"domain": [-0.3, 228.7], "nice": false, "zero": false, "padding": 0}},
                      "y": {"datum": -7600, "scale": {"domain": [0, 67000], "nice": false, "zero": false, "padding": 0}}}},
        {"data": {"name": "one"}, "mark": {"type": "rule", "color": "#d01818", "strokeWidth": 2},
         "encoding": {"x": {"datum": 245.0, "scale": {"domain": [-0.3, 228.7], "nice": false, "zero": false, "padding": 0}},
                      "y": {"datum": -16000, "scale": {"domain": [0, 67000], "nice": false, "zero": false, "padding": 0}}, "y2": {"datum": 67000}}}
      ]
    }
  ]
}
